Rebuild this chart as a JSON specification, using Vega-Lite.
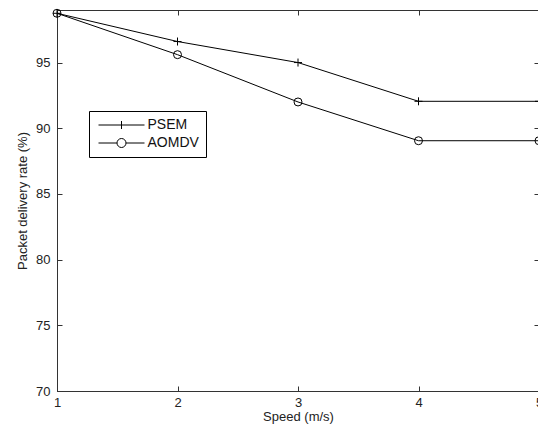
{
  "$schema": "https://vega.github.io/schema/vega-lite/v6.json",
  "autosize": "none",
  "padding": {"left": 57, "top": 10, "right": 0, "bottom": 41},
  "width": 482,
  "height": 381,
  "background": "white",
  "config": {
    "font": "Liberation Sans",
    "view": {"stroke": "#333", "strokeWidth": 1},
    "axis": {
      "grid": false,
      "domainColor": "#333",
      "tickColor": "#333",
      "labelColor": "#222",
      "titleColor": "#222",
      "labelFont": "Liberation Sans",
      "titleFont": "Liberation Sans",
      "labelFontSize": 13,
      "titleFontSize": 13,
      "titleFontWeight": "normal",
      "tickSize": -5
    }
  },
  "data": {
    "values": [
      {"speed": 1, "rate": 98.75, "protocol": "PSEM"},
      {"speed": 2, "rate": 96.6, "protocol": "PSEM"},
      {"speed": 3, "rate": 95.0, "protocol": "PSEM"},
      {"speed": 4, "rate": 92.05, "protocol": "PSEM"},
      {"speed": 5, "rate": 92.05, "protocol": "PSEM"},
      {"speed": 1, "rate": 98.75, "protocol": "AOMDV"},
      {"speed": 2, "rate": 95.6, "protocol": "AOMDV"},
      {"speed": 3, "rate": 92.0, "protocol": "AOMDV"},
      {"speed": 4, "rate": 89.05, "protocol": "AOMDV"},
      {"speed": 5, "rate": 89.05, "protocol": "AOMDV"}
    ]
  },
  "layer": [
    {
      "mark": {"type": "line", "color": "black", "strokeWidth": 1},
      "encoding": {
        "x": {"field": "speed", "type": "quantitative", "scale": {"domain": [1, 5], "nice": false},
              "axis": {"orient": "bottom", "values": [1, 2, 3, 4, 5], "title": "Speed (m/s)", "labelPadding": 10, "titlePadding": 1, "labelFlush": false}},
        "y": {"field": "rate", "type": "quantitative", "scale": {"domain": [70, 99], "nice": false, "zero": false},
              "axis": {"orient": "left", "values": [70, 75, 80, 85, 90, 95], "title": "Packet delivery rate (%)", "labelPadding": 12, "titlePadding": 6, "labelFlush": false}},
        "detail": {"field": "protocol"}
      }
    },
    {
      "mark": {"type": "point", "filled": false, "stroke": "black", "strokeWidth": 1, "size": 64, "opacity": 1},
      "encoding": {
        "x": {"field": "speed", "type": "quantitative",
              "axis": {"orient": "top", "values": [1, 2, 3, 4, 5], "labels": false, "title": null, "domain": false}},
        "y": {"field": "rate", "type": "quantitative",
              "axis": {"orient": "right", "values": [70, 75, 80, 85, 90, 95], "labels": false, "title": null, "domain": false}},
        "shape": {"field": "protocol", "type": "nominal",
                  "scale": {"domain": ["PSEM", "AOMDV"], "range": ["M-1,0L1,0M0,-1L0,1", "circle"]},
                  "legend": null}
      }
    },
    {
      "mark": {"type": "point", "filled": false, "stroke": "black", "strokeWidth": 1, "opacity": 0},
      "encoding": {
        "x": {"field": "speed", "type": "quantitative", "axis": null},
        "y": {"field": "rate", "type": "quantitative", "axis": null},
        "shape": {"field": "protocol", "type": "nominal",
                  "scale": {"domain": ["PSEM", "AOMDV"], "range": ["M-1,0L22,0M10.5,-2L10.5,2", "M-1,0L8.25,0M12.75,0L22,0M8.25,0A2.25,2.25 0 1,0 12.75,0A2.25,2.25 0 1,0 8.25,0"]},
                  "legend": {
                    "title": null,
                    "orient": "none",
                    "legendX": 32,
                    "legendY": 101,
                    "strokeColor": "black",
                    "fillColor": "white",
                    "padding": 7,
                    "symbolSize": 16,
                    "symbolOffset": -2.5,
                    "symbolStrokeColor": "black",
                    "symbolFillColor": "transparent",
                    "symbolStrokeWidth": 1,
                    "symbolOpacity": 1,
                    "labelFontSize": 14,
                    "labelColor": "#111",
                    "labelFont": "Liberation Sans",
                    "labelOffset": 40,
                    "rowPadding": 4
                  }}
      }
    }
  ],
  "resolve": {"scale": {"shape": "independent"}, "axis": {"x": "independent", "y": "independent"}}
}
